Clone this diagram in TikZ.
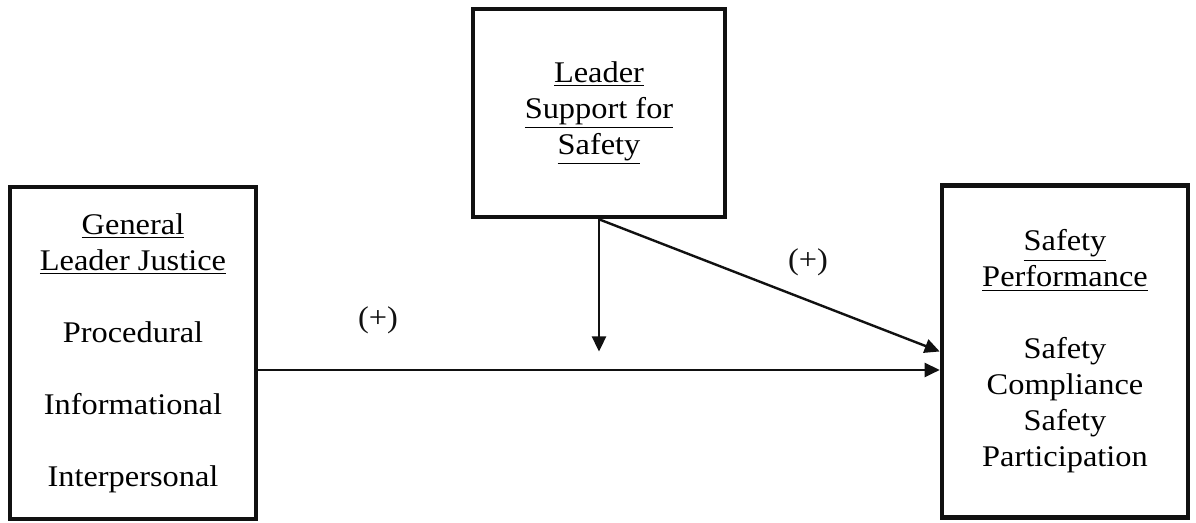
\documentclass[tikz,border=0pt]{standalone}
\usepackage{fontspec}
\setmainfont{Liberation Serif}[FakeStretch=1.08]
\usepackage{xcolor}
\usepackage{tikz}
\usetikzlibrary{arrows.meta,positioning}
\definecolor{ldrInk}{HTML}{111111}
\tikzset{
  ldrbox/.style={draw=ldrInk,line width=2.3pt,fill=white,align=center,
                 inner sep=0pt,font=\fontsize{15}{18}\selectfont},
  ldrside/.style={ldrbox,minimum width=123pt,minimum height=166pt},
  ldrarrow/.style={-{Triangle[length=7.5pt,width=7pt]},line width=1.2pt,ldrInk},
  ldrlabel/.style={font=\fontsize{15}{18}\selectfont,text=ldrInk}
}

\begin{document}
\begin{tikzpicture}[x=0.5pt,y=0.5pt]
    \useasboundingbox[fill=white] (0,0) rectangle (1196,523);
    \node[ldrside] (justice) at (133,170)
      {\underline{General}\\\underline{Leader Justice}\\[18pt]
       Procedural\\[18pt]Informational\\[18pt]Interpersonal};
    \node[ldrbox,minimum width=126pt,minimum height=104pt] (support) at (599,410)
      {\underline{Leader}\\\underline{Support for}\\\underline{Safety}};
    \node[ldrside] (perf) at (1065,171.5)
      {\underline{Safety}\\\underline{Performance}\\[18pt]
       Safety\\Compliance\\Safety\\Participation};

    \draw[ldrarrow] ([yshift=-8.5pt]justice.east) -- ([yshift=-9.25pt]perf.west);
    \draw[ldrarrow] (support.south) -- (support.south |- perf.west);
    \draw[ldrarrow] (support.south) -- (perf.west);

    \node[ldrlabel] (plusdirect) at (378,203) {(+)};
    \node[ldrlabel] (plussupport) at (808,261) {(+)};
  \end{tikzpicture}
\end{document}
